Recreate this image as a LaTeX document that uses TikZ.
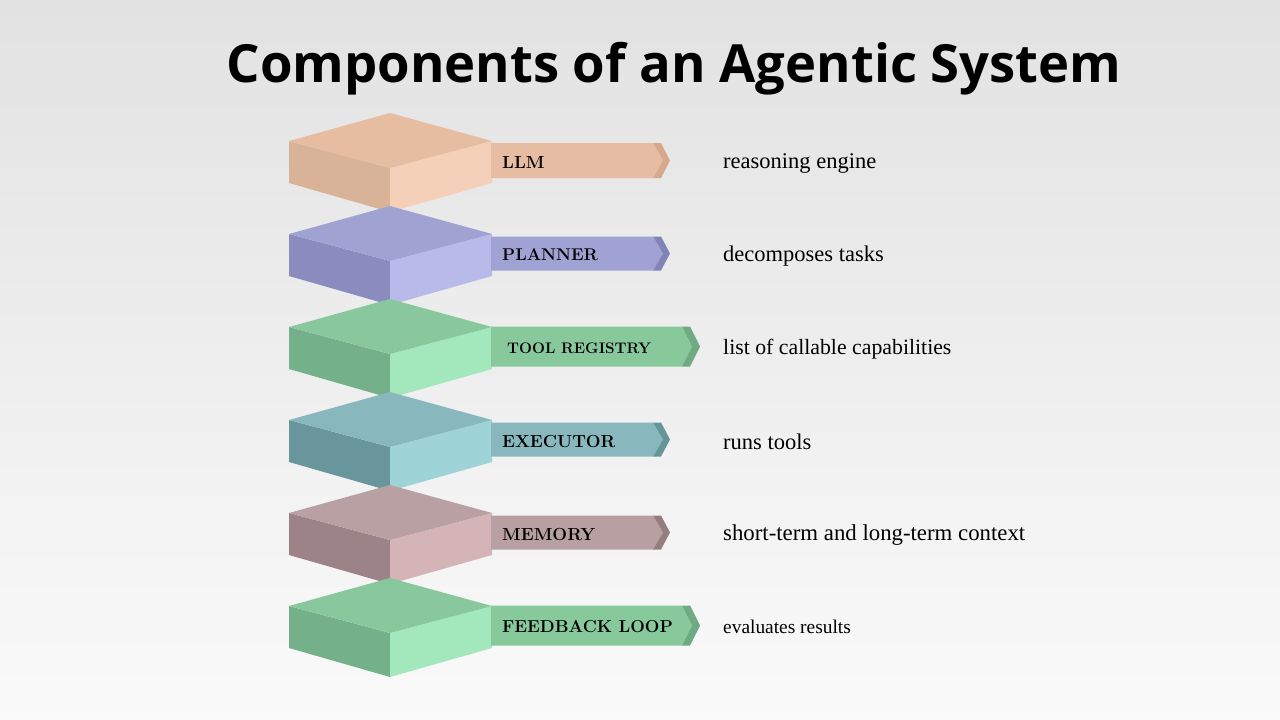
\documentclass[tikz,border=0pt]{standalone}
\usepackage{fontspec}
\setmainfont{Liberation Serif}
\newfontfamily\titlefont{Open Sans}
\newfontfamily\labelfont{Latin Modern Roman}
\usetikzlibrary{calc}
\definecolor{bgtop}{RGB}{226,226,226}
\definecolor{bgbot}{RGB}{250,250,250}
% LLM
\definecolor{aT}{RGB}{230,189,160}\definecolor{aL}{RGB}{217,179,152}\definecolor{aR}{RGB}{245,208,185}\definecolor{aB}{RGB}{230,188,162}\definecolor{aC}{RGB}{216,168,140}
% PLANNER
\definecolor{bT}{RGB}{160,162,210}\definecolor{bL}{RGB}{138,140,190}\definecolor{bR}{RGB}{184,186,234}\definecolor{bB}{RGB}{160,162,212}\definecolor{bC}{RGB}{130,132,185}
% TOOL / FEEDBACK
\definecolor{cT}{RGB}{136,200,156}\definecolor{cL}{RGB}{116,176,138}\definecolor{cR}{RGB}{163,232,189}\definecolor{cB}{RGB}{136,201,156}\definecolor{cC}{RGB}{110,170,130}
% EXECUTOR
\definecolor{dT}{RGB}{136,184,190}\definecolor{dL}{RGB}{104,150,156}\definecolor{dR}{RGB}{158,211,216}\definecolor{dB}{RGB}{136,184,190}\definecolor{dC}{RGB}{100,150,152}
% MEMORY
\definecolor{eT}{RGB}{184,160,163}\definecolor{eL}{RGB}{155,131,136}\definecolor{eR}{RGB}{212,180,183}\definecolor{eB}{RGB}{184,160,162}\definecolor{eC}{RGB}{150,125,128}
\tikzset{
  lbl/.style={anchor=west,inner sep=0pt,text=black,font=\labelfont\bfseries\fontsize{17.5}{17.5}\selectfont},
  desc/.style={anchor=west,inner sep=0pt,text=black,font=\fontsize{22.5}{22.5}\selectfont},
}
% #1 y offset, #2 colour prefix, #3 body end x, #4 tip x, #5 half height, #6 name
\newcommand{\stackblock}[6]{%
  \begin{scope}[yshift=-#1pt]
    \fill[#2L] (289,141) -- (390,168) -- (390,212) -- (289,183) -- cycle;
    \fill[#2R] (390,168) -- (492,141) -- (492,183) -- (390,212) -- cycle;
    \fill[#2T] (390,113) -- (492,141) -- (390,168) -- (289,141) -- cycle;
    \fill[#2B] (491,160.5-#5) -- (#3,160.5-#5) -- (#3+10,160.5) -- (#3,160.5+#5) -- (491,160.5+#5) -- cycle;
    \fill[#2C] (#3,160.5-#5) -- (#3+8,160.5-#5) -- (#4,160.5) -- (#3+8,160.5+#5) -- (#3,160.5+#5) -- (#3+10,160.5) -- cycle;
    \coordinate (#6) at (502,162);
  \end{scope}}
\begin{document}
\begin{tikzpicture}[x=1pt,y=-1pt]
\shade[top color=bgtop,bottom color=bgbot] (0,0) rectangle (1280,720);
\useasboundingbox (0,0) rectangle (1280,720);
\node[inner sep=0pt,font=\titlefont\bfseries\fontsize{52.6}{52.6}\selectfont] (title) at (674,69) {Components of an Agentic System};
\stackblock{0}{a}{653}{670}{17.5}{p1}
\stackblock{93}{b}{653}{670}{17}{p2}
\stackblock{186}{c}{682}{700}{20}{p3}
\stackblock{279}{d}{653}{670}{17}{p4}
\stackblock{372}{e}{653}{670}{17}{p5}
\stackblock{465}{c}{682}{700}{20}{p6}
\node[lbl] (l1) at (p1) {LLM};
\node[lbl,font=\labelfont\bfseries\fontsize{17}{17}\selectfont] (l2) at (p2) {PLANNER};
\node[lbl,font=\labelfont\bfseries\fontsize{15.3}{15.3}\selectfont] (l3) at ($(p3)+(5,0)$) {TOOL REGISTRY};
\node[lbl] (l4) at (p4) {EXECUTOR};
\node[lbl] (l5) at (p5) {MEMORY};
\node[lbl,font=\labelfont\bfseries\fontsize{17.3}{17.3}\selectfont] (l6) at (p6) {FEEDBACK LOOP};
\node[desc] (d1) at (723,163) {reasoning engine};
\node[desc] (d2) at (723,256) {decomposes tasks};
\node[desc,font=\fontsize{21.8}{21.8}\selectfont] (d3) at (723,349) {list of callable capabilities};
\node[desc] (d4) at (723,442) {runs tools};
\node[desc,font=\fontsize{22.8}{22.8}\selectfont] (d5) at (723,535) {short-term and long-term context};
\node[desc,font=\fontsize{19.4}{19.4}\selectfont] (d6) at (723,627) {evaluates results};
\end{tikzpicture}
\end{document}
